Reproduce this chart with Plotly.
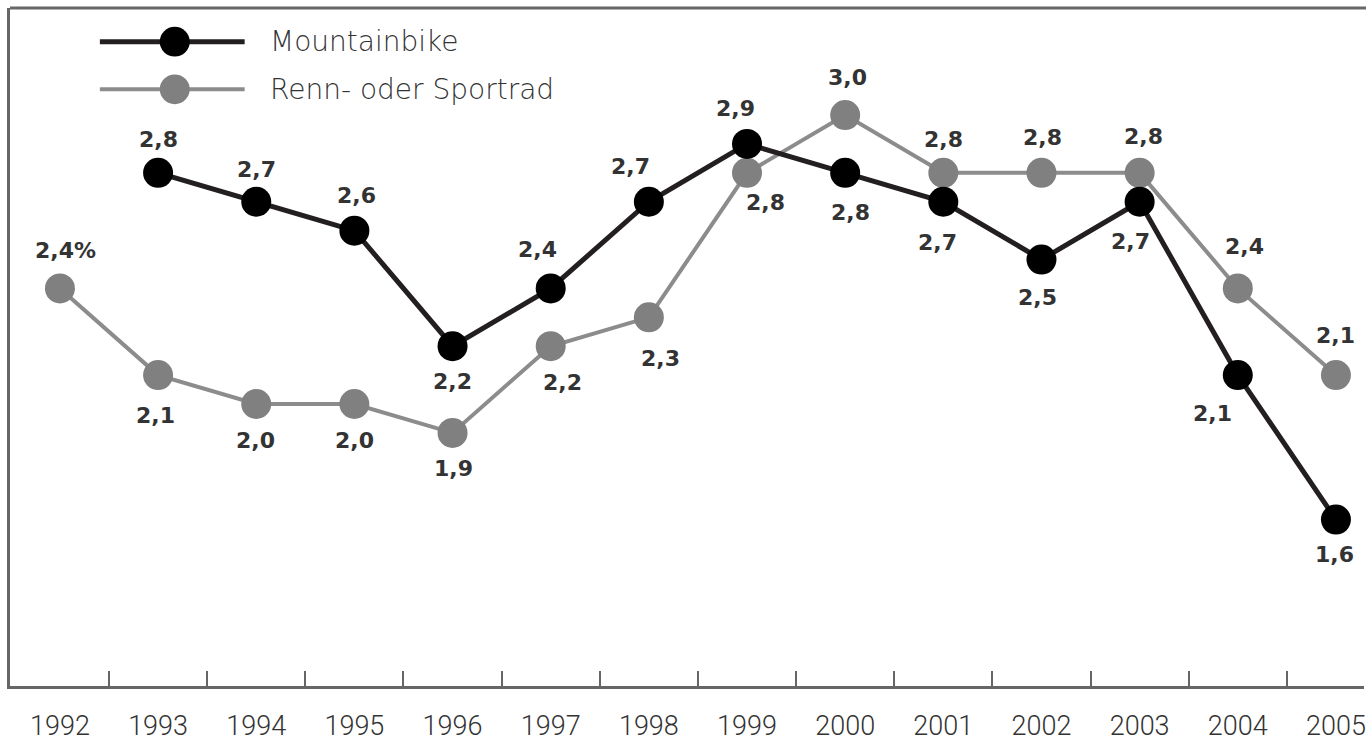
import plotly.graph_objects as go

years = [str(y) for y in range(1992, 2006)]
mtb_years = years[1:]
mtb_values = [2.8, 2.7, 2.6, 2.2, 2.4, 2.7, 2.9, 2.8, 2.7, 2.5, 2.7, 2.1, 1.6]
renn_years = years
renn_values = [2.4, 2.1, 2.0, 2.0, 1.9, 2.2, 2.3, 2.8, 3.0, 2.8, 2.8, 2.8, 2.4, 2.1]
series_names = ["Mountainbike", "Renn- oder Sportrad"]

# label offsets in pixels (dx, dy; dy positive = downwards)
mtb_offsets = [(0, -33), (0, -32), (2, -35), (0, 35), (-13, -39), (-18, -35), (-12, -35),
               (5, 40), (-6, 41), (-4, 38), (-9, 40), (-25, 38), (-1, 35)]
renn_offsets = [(6, -38), (-3, 40), (-1, 36), (0, 36), (1, 36), (12, 36), (12, 41), (18, 30),
                (2, -38), (0, -33), (1, -35), (4, -36), (7, -42), (0, -40)]

W, H = 1366, 742
ML, MR, MT, MB = 10, 0, 8, 50
PW, PH = W - ML - MR, H - MT - MB

BLACK_LINE = "#231f20"
BLACK_MARK = "#000000"
GREY_LINE = "#8c8c8c"
GREY_MARK = "#808080"
TXT = "#333333"
FRAME = "#666666"

def fmt(v):
    return f"{v:.1f}".replace(".", ",")

fig = go.Figure()
fig.add_trace(go.Scatter(x=renn_years, y=renn_values, mode="lines+markers", name=series_names[1],
                         line=dict(color=GREY_LINE, width=4),
                         marker=dict(color=GREY_MARK, size=30, line=dict(width=0)),
                         cliponaxis=False, showlegend=False))
fig.add_trace(go.Scatter(x=mtb_years, y=mtb_values, mode="lines+markers", name=series_names[0],
                         line=dict(color=BLACK_LINE, width=5),
                         marker=dict(color=BLACK_MARK, size=30, line=dict(width=0)),
                         cliponaxis=False, showlegend=False))

annotations = []
label_font = dict(family="DejaVu Sans", size=22, color=TXT, weight="bold")
for i, (x, v) in enumerate(zip(renn_years, renn_values)):
    t = fmt(v) + ("%" if i == 0 else "")
    dx, dy = renn_offsets[i]
    annotations.append(dict(x=years.index(x), y=v, xref="x", yref="y", text=t, showarrow=False,
                            xshift=dx, yshift=-dy, font=label_font))
for i, (x, v) in enumerate(zip(mtb_years, mtb_values)):
    dx, dy = mtb_offsets[i]
    annotations.append(dict(x=years.index(x), y=v, xref="x", yref="y", text=fmt(v), showarrow=False,
                            xshift=dx, yshift=-dy, font=label_font))

def px_x(p):
    return (p - ML) / PW

def px_y(p):
    return (H - MB - (p + 2)) / PH

shapes = []
# top frame line
shapes.append(dict(type="line", xref="paper", yref="paper", x0=0, x1=1.01, y0=1, y1=1,
                   line=dict(color=FRAME, width=3)))
# manual legend
legend_items = [(series_names[0], 40, BLACK_LINE, BLACK_MARK, 5),
                (series_names[1], 88, GREY_LINE, GREY_MARK, 4)]
for name, py, lc, mc, lw in legend_items:
    shapes.append(dict(type="line", xref="paper", yref="paper", x0=px_x(100), x1=px_x(245),
                       y0=px_y(py), y1=px_y(py), line=dict(color=lc, width=lw)))
    r = 15
    shapes.append(dict(type="circle", xref="paper", yref="paper",
                       x0=px_x(175 - r), x1=px_x(175 + r), y0=px_y(py + r), y1=px_y(py - r),
                       fillcolor=mc, line=dict(width=0)))
    annotations.append(dict(x=px_x(268), y=px_y(py), xref="paper", yref="paper", text=name,
                            showarrow=False, xanchor="left", yanchor="middle",
                            font=dict(family="DejaVu Sans", size=28, color=TXT, weight=200)))

step = 98.3
r0 = -(60 - ML) / step
r1 = r0 + PW / step
ppu = 291.5
top_px, bot_px = 6, 690
y_top = 3.0 + (114 - top_px) / ppu
y_bot = 3.0 - (bot_px - 114) / ppu

fig.update_layout(
    width=W, height=H,
    margin=dict(l=ML, r=MR, t=MT, b=MB),
    paper_bgcolor="white", plot_bgcolor="white",
    showlegend=False,
    annotations=annotations, shapes=shapes,
    xaxis=dict(type="category", categoryorder="array", categoryarray=years,
               range=[r0, r1], tickson="boundaries", ticks="inside", ticklen=15,
               tickwidth=2, tickcolor=FRAME, showline=True, linecolor=FRAME, linewidth=3,
               showgrid=False, zeroline=False, ticklabelstandoff=14,
               ticklabeloverflow="allow",
               tickfont=dict(family="Roboto", size=27, color=TXT, weight=300)),
    yaxis=dict(range=[y_bot, y_top], showline=True, linecolor=FRAME, linewidth=3,
               showgrid=False, zeroline=False, showticklabels=False, ticks=""),
)

fig.write_html("out.html", config={"displayModeBar": False},
               post_script="document.body.style.margin='0';")
